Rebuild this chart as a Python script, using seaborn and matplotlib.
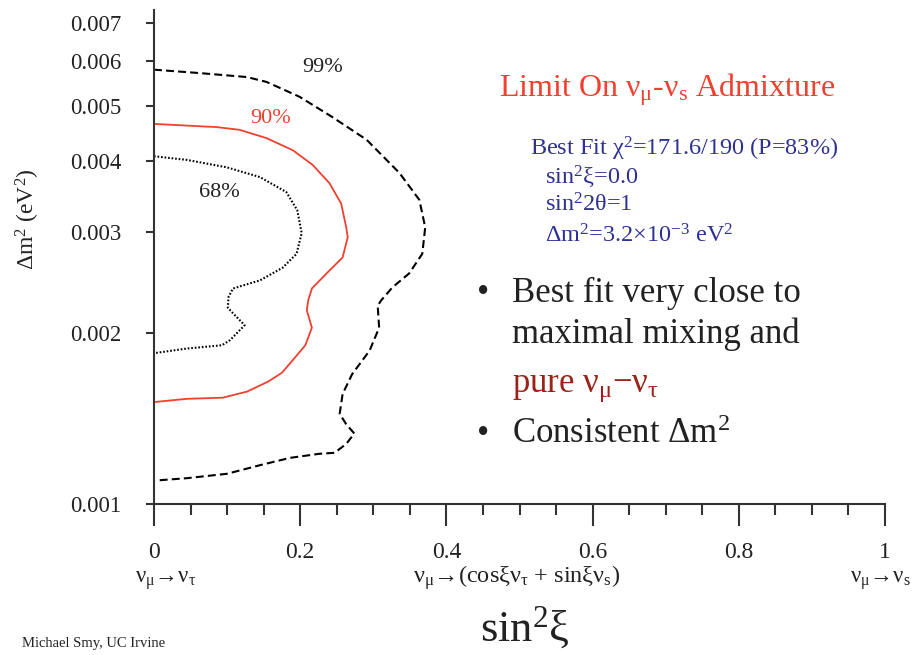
import numpy as np
import pandas as pd
import matplotlib
matplotlib.use("Agg")
import matplotlib.pyplot as plt
import seaborn as sns

# contour lines: sin^2(xi) vs delta m^2 (eV^2)
x99 = [0.0, 0.063, 0.127, 0.154, 0.199, 0.244, 0.291, 0.336, 0.363, 0.371, 0.367,
       0.349, 0.326, 0.311, 0.306, 0.308, 0.295, 0.271, 0.258, 0.254, 0.263, 0.274,
       0.263, 0.247, 0.226, 0.186, 0.145, 0.100, 0.045, 0.004]
y99 = [0.00579, 0.00571, 0.00562, 0.00551, 0.00519, 0.00478, 0.00436, 0.00381, 0.00342,
       0.00306, 0.00275, 0.00254, 0.00240, 0.00228, 0.00223, 0.00204, 0.00186, 0.00169,
       0.00156, 0.00144, 0.00138, 0.00133, 0.001275, 0.00123, 0.001225, 0.001205,
       0.00117, 0.00113, 0.00111, 0.00110]

x90 = [0.0, 0.086, 0.117, 0.154, 0.190, 0.217, 0.240, 0.256, 0.263, 0.265, 0.258, 0.236,
       0.216, 0.211, 0.209, 0.216, 0.207, 0.190, 0.175, 0.156, 0.127, 0.094, 0.045, 0.0]
y90 = [0.00465, 0.00459, 0.00454, 0.00439, 0.00418, 0.00394, 0.00366, 0.00337, 0.00306,
       0.00294, 0.00271, 0.00254, 0.00239, 0.00228, 0.00219, 0.00204, 0.00190, 0.00179,
       0.00170, 0.00164, 0.001575, 0.001537, 0.00153, 0.00151]

x68 = [0.0, 0.045, 0.100, 0.145, 0.181, 0.196, 0.202, 0.195, 0.176, 0.145, 0.108, 0.102,
       0.101, 0.124, 0.104, 0.093, 0.045, 0.0]
y68 = [0.00408, 0.00402, 0.00390, 0.00375, 0.00353, 0.00328, 0.00299, 0.00275, 0.00260,
       0.00247, 0.00239, 0.00231, 0.00221, 0.00206, 0.00194, 0.00190, 0.001875, 0.00184]

# contour label positions (x, y) and names
cl_names = ["99%", "90%", "68%"]
cl_x = [0.230, 0.160, 0.090]
cl_y = [0.00585, 0.00476, 0.00353]

xticks = [0, 0.2, 0.4, 0.6, 0.8, 1]
xticklabels = ["0", "0.2", "0.4", "0.6", "0.8", "1"]
yticks = [0.001, 0.002, 0.003, 0.004, 0.005, 0.006, 0.007]
yticklabels = ["0.001", "0.002", "0.003", "0.004", "0.005", "0.006", "0.007"]

sns.set_theme(style="ticks")
plt.rcParams["font.family"] = ["Liberation Serif", "DejaVu Serif"]
plt.rcParams["mathtext.fontset"] = "custom"
plt.rcParams["mathtext.rm"] = "Liberation Serif"
plt.rcParams["mathtext.it"] = "Liberation Serif:italic"
plt.rcParams["mathtext.bf"] = "Liberation Serif:bold"

RED = "#f0402f"
DARKRED = "#9c2218"
BLUE = "#2e3192"
INK = "#222222"

fig = plt.figure(figsize=(9.13, 6.55), dpi=100)
ax = fig.add_axes([154 / 913, 1 - 504 / 655, 731 / 913, 494 / 655])

df99 = pd.DataFrame({"x": x99, "y": y99})
df90 = pd.DataFrame({"x": x90, "y": y90})
df68 = pd.DataFrame({"x": x68, "y": y68})

sns.lineplot(data=df99, x="x", y="y", sort=False, estimator=None, color="black", lw=1.5, ax=ax)
ax.lines[-1].set_dashes([3.8, 2.0])
sns.lineplot(data=df90, x="x", y="y", sort=False, estimator=None, color=RED, lw=1.3, ax=ax)
sns.lineplot(data=df68, x="x", y="y", sort=False, estimator=None, color="black", lw=1.5, ax=ax)
ax.lines[-1].set_dashes([0.8, 0.9])

for name, lx, ly in zip(cl_names, cl_x, cl_y):
    ax.text(lx, ly, name, ha="center", va="center", fontsize=16,
            color=RED if name == "90%" else INK)

ax.set_yscale("log")
ax.set_xlim(0, 1)
ax.set_ylim(0.001, 0.00737)
ax.set_xticks(xticks)
ax.set_xticklabels(xticklabels)
ax.set_xticks(np.arange(0, 1.001, 0.05), minor=True)
ax.set_yticks(yticks)
ax.set_yticklabels(yticklabels)
ax.yaxis.set_minor_locator(matplotlib.ticker.NullLocator())
ax.set_xlabel("")
ax.set_ylabel("")

for side in ["top", "right"]:
    ax.spines[side].set_visible(False)
for side in ["left", "bottom"]:
    ax.spines[side].set_linewidth(1.5)
    ax.spines[side].set_color("#333333")

ax.tick_params(axis="x", which="major", length=16, width=1.5, color="#333333",
               pad=11, labelsize=17, labelcolor=INK)
ax.tick_params(axis="x", which="minor", length=8, width=1.5, color="#333333")
ax.tick_params(axis="y", which="major", length=5.5, width=1.5, color="#333333",
               pad=18, labelsize=16.5, labelcolor=INK)

# axis titles
fig.text(28 / 913, 1 - 219 / 655, r"Δm$\mathregular{^2}$ (eV$\mathregular{^2}$)",
         rotation=90, ha="center", va="center", fontsize=17, color=INK)
fig.text(525 / 913, 1 - 641 / 655, r"sin$\mathregular{^2}$ξ", ha="center",
         va="baseline", fontsize=32, color=INK)

# labels under the x axis
fig.text(135 / 913, 1 - 583 / 655, r"$\mathregular{ν_μ}$→$\mathregular{ν_τ}$",
         ha="left", va="baseline", fontsize=16.5, color=INK)
fig.text(413 / 913, 1 - 583 / 655,
         r"$\mathregular{ν_μ}$→(cosξ$\mathregular{ν_τ}$ + sinξ$\mathregular{ν_s}$)",
         ha="left", va="baseline", fontsize=17.5, color=INK)
fig.text(911 / 913, 1 - 583 / 655, r"$\mathregular{ν_μ}$→$\mathregular{ν_s}$",
         ha="right", va="baseline", fontsize=16.5, color=INK)

# title and fit results
fig.text(667 / 913, 1 - 97 / 655, r"Limit On $\mathregular{ν_μ}$-$\mathregular{ν_s}$ Admixture",
         ha="center", va="baseline", fontsize=23, color=RED)
fig.text(530 / 913, 1 - 155 / 655, r"Best Fit $\mathregular{χ^2}$=171.6/190 (P=83%)",
         ha="left", va="baseline", fontsize=17.5, color=BLUE)
fig.text(545 / 913, 1 - 183 / 655, r"sin$\mathregular{^2}$ξ=0.0",
         ha="left", va="baseline", fontsize=17.5, color=BLUE)
fig.text(545 / 913, 1 - 212 / 655, r"sin$\mathregular{^2}$2θ=1",
         ha="left", va="baseline", fontsize=17.5, color=BLUE)
fig.text(545 / 913, 1 - 242 / 655, r"Δm$\mathregular{^2}$=3.2×10$\mathregular{^{-3}}$ eV$\mathregular{^2}$",
         ha="left", va="baseline", fontsize=17.5, color=BLUE)

# bullet points
fig.text(483 / 913, 1 - 302 / 655, "•", ha="center", va="baseline", fontsize=25, color=INK)
fig.text(512 / 913, 1 - 302 / 655, "Best fit very close to", ha="left", va="baseline",
         fontsize=25, color=INK)
fig.text(512 / 913, 1 - 343 / 655, "maximal mixing and", ha="left", va="baseline",
         fontsize=25, color=INK)
fig.text(512 / 913, 1 - 392 / 655, r"pure $\mathregular{ν_μ}$−$\mathregular{ν_τ}$", ha="left",
         va="baseline", fontsize=25, color=DARKRED)
fig.text(483 / 913, 1 - 443 / 655, "•", ha="center", va="baseline", fontsize=25, color=INK)
fig.text(512 / 913, 1 - 443 / 655, r"Consistent Δm$\mathregular{^2}$", ha="left", va="baseline",
         fontsize=25, color=INK)

fig.text(22 / 913, 1 - 647 / 655, "Michael Smy, UC Irvine", ha="left", va="baseline",
         fontsize=10.5, color=INK)

fig.savefig("out.png", dpi=100)
